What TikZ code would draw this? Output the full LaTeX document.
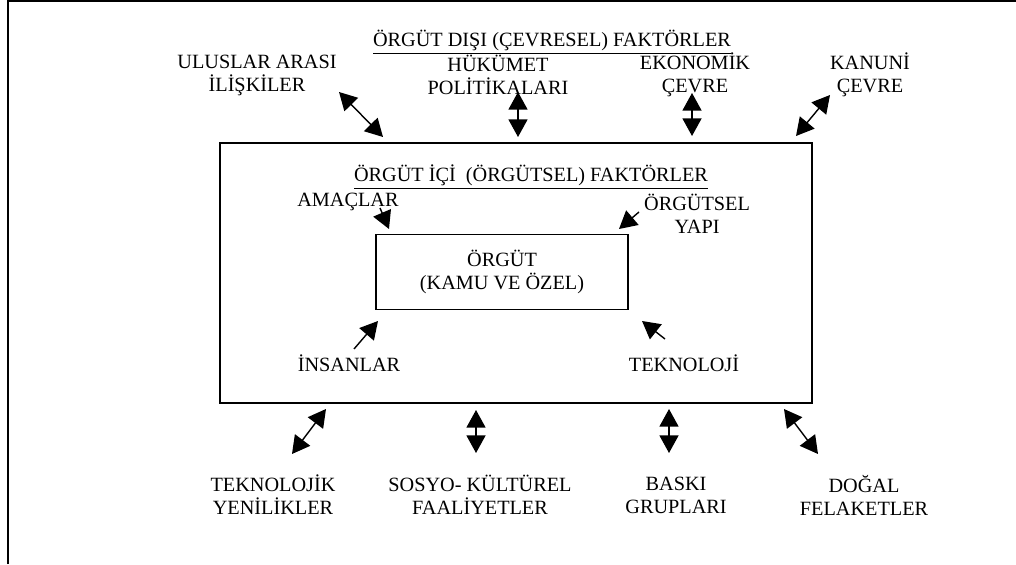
\documentclass[tikz,border=0pt]{standalone}
\usepackage{fontspec}
\setmainfont{Liberation Serif}
\usetikzlibrary{arrows.meta,positioning}

\begin{document}
\begin{tikzpicture}[x=0.025cm, y=-0.025cm, font=\fontsize{14.4}{16.3}\selectfont,
  etiket/.style={align=center, inner sep=0pt},
  tekok/.style={-{Triangle[length=12.5pt,width=13.5pt]}, line width=1pt},
  ciftok/.style={{Triangle[length=12.5pt,width=13.5pt]}-{Triangle[length=12.5pt,width=13.5pt]}, line width=1pt}]
\useasboundingbox (0,0) rectangle (1016,564);

% cerceve
\coordinate (k1) at (8,564);
\coordinate (k2) at (8,1);
\coordinate (k3) at (1016,1);
\draw[line width=1.4pt] (k1) -- (k2) -- (k3);

% kutular
\node[draw, line width=1.3pt, minimum width=14.8cm, minimum height=6.5cm] (dis) at (516,273) {};
\node[draw, line width=1.2pt, minimum width=6.3cm, minimum height=1.875cm, align=center] (orgut) at (502,272) {ÖRGÜT\\(KAMU VE ÖZEL)};

% basliklar
\node[etiket] (disbaslik) at (552,42) {\underline{ÖRGÜT DIŞI (ÇEVRESEL) FAKTÖRLER}};
\node[etiket] (icbaslik) at (531,177) {\underline{ÖRGÜT İÇİ\ \ (ÖRGÜTSEL) FAKTÖRLER}};

% dis faktorler
\node[etiket] (ulus) at (257,75) {ULUSLAR ARASI\\İLİŞKİLER};
\node[etiket] (hukumet) at (498,75) {HÜKÜMET\\POLİTİKALARI};
\node[etiket] (ekonomi) at (695,75) {EKONOMİK\\ÇEVRE};
\node[etiket] (kanuni) at (870,75) {KANUNİ\\ÇEVRE};
\node[etiket] (yenilik) at (273,495) {TEKNOLOJİK\\YENİLİKLER};
\node[etiket] (sosyo) at (480,495) {SOSYO- KÜLTÜREL\\FAALİYETLER};
\node[etiket] (baski) at (676,495) {BASKI\\GRUPLARI};
\node[etiket] (dogal) at (864,495) {DOĞAL\\FELAKETLER};

% ic faktorler
\node[etiket] (amac) at (348,202) {AMAÇLAR};
\node[etiket] (yapi) at (697,213.5) {ÖRGÜTSEL\\YAPI};
\node[etiket] (insan) at (349,363) {İNSANLAR};
\node[etiket] (tekno) at (684,363) {TEKNOLOJİ};

% ok uclari
\coordinate (ulusA) at (339,92);   \coordinate (ulusB) at (383,137);
\coordinate (hukA) at (518,92);    \coordinate (hukB) at (518,137);
\coordinate (ekoA) at (692,93);    \coordinate (ekoB) at (692,136);
\coordinate (kanA) at (830,95);    \coordinate (kanB) at (796,136);
\coordinate (yenA) at (326,409);   \coordinate (yenB) at (292,454);
\coordinate (sosA) at (476,410);   \coordinate (sosB) at (476,453);
\coordinate (basA) at (669,409);   \coordinate (basB) at (669,453);
\coordinate (dogA) at (784,409);   \coordinate (dogB) at (818,454);
\coordinate (amacA) at (380,208);  \coordinate (amacB) at (389,229);
\coordinate (yapiA) at (639,212);  \coordinate (yapiB) at (619,229);
\coordinate (insA) at (354,349);   \coordinate (insB) at (378,321);
\coordinate (tekA) at (665,339);   \coordinate (tekB) at (642,321);

% oklar
\draw[ciftok] (ulusA) -- (ulusB);
\draw[ciftok] (hukA) -- (hukB);
\draw[ciftok] (ekoA) -- (ekoB);
\draw[ciftok] (kanA) -- (kanB);
\draw[ciftok] (yenA) -- (yenB);
\draw[ciftok] (sosA) -- (sosB);
\draw[ciftok] (basA) -- (basB);
\draw[ciftok] (dogA) -- (dogB);
\draw[tekok] (amacA) -- (amacB);
\draw[tekok] (yapiA) -- (yapiB);
\draw[tekok] (insA) -- (insB);
\draw[tekok] (tekA) -- (tekB);
\end{tikzpicture}
\end{document}
